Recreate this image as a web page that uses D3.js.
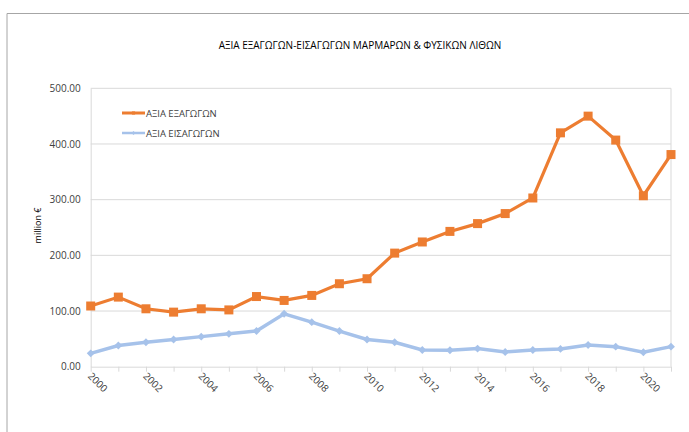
<!DOCTYPE html>
<html>
<head>
<meta charset="utf-8">
<script src="https://cdn.jsdelivr.net/npm/d3@7"></script>
<style>
  body { margin: 0; background: #fff; }
  text { font-family: "Open Sans", "Liberation Sans", sans-serif; fill: #404040; }
</style>
</head>
<body>
<div id="app"></div>
<script>
let years = d3.range(2000, 2022);
let exportsVal = [109, 125, 104, 98, 104, 102, 126, 119, 128, 149, 158, 204, 224, 243, 257, 275, 303, 420, 450, 407, 307, 381];
let importsVal = [24, 38, 44, 49, 54, 59, 64, 95, 80, 64, 49, 44, 30, 29.5, 32.5, 26.5, 30, 32, 39, 36, 26, 36];
let yTicks = [0, 100, 200, 300, 400, 500];
let seriesNames = ['ΑΞΙΑ ΕΞΑΓΩΓΩΝ', 'ΑΞΙΑ ΕΙΣΑΓΩΓΩΝ'];
let chartTitle = 'ΑΞΙΑ ΕΞΑΓΩΓΩΝ-ΕΙΣΑΓΩΓΩΝ ΜΑΡΜΑΡΩΝ & ΦΥΣΙΚΩΝ ΛΙΘΩΝ';

let width = 689;
let height = 432;
let plot = { left: 90.7, right: 671, top: 88.3, bottom: 366.7 };

let orange = '#ed7d31';
let blue = '#a6c2ea';

let svg = d3.select('#app').append('svg')
    .attr('width', width)
    .attr('height', height);

// outer frame (only top and left visible)
svg.append('path')
    .attr('d', 'M7,432 V13.5 H689')
    .attr('fill', 'none')
    .attr('stroke', '#a6a6a6')
    .attr('stroke-width', 1);

let xScale = d3.scaleLinear()
    .domain([2000, 2021])
    .range([plot.left, plot.right]);

let yScale = d3.scaleLinear()
    .domain([0, 500])
    .range([plot.bottom, plot.top]);

// gridlines
svg.append('g')
  .selectAll('line')
    .data(yTicks.slice(1))
    .enter()
    .append('line')
      .attr('x1', plot.left)
      .attr('x2', plot.right)
      .attr('y1', d => yScale(d))
      .attr('y2', d => yScale(d))
      .attr('stroke', '#d9d9d9')
      .attr('stroke-width', 1);

// right border of plot area
svg.append('line')
    .attr('x1', plot.right).attr('x2', plot.right)
    .attr('y1', plot.top).attr('y2', plot.bottom)
    .attr('stroke', '#d9d9d9');

// y axis
let yAxis = d3.axisLeft(yScale)
    .tickValues(yTicks)
    .tickFormat(d3.format('.2f'))
    .tickSize(0)
    .tickPadding(10);

let yg = svg.append('g')
    .attr('transform', `translate(${plot.left},0)`)
    .call(yAxis);
yg.select('.domain').attr('stroke', '#d9d9d9');
yg.selectAll('text')
    .style('font-size', '10px')
    .style('fill', '#404040');

// x axis
let xAxis = d3.axisBottom(xScale)
    .tickValues(years)
    .tickFormat(d => d % 2 === 0 ? d : '')
    .tickSize(5)
    .tickSizeOuter(0);

let xg = svg.append('g')
    .attr('transform', `translate(0,${plot.bottom})`)
    .call(xAxis);
xg.select('.domain').attr('stroke', '#d9d9d9');
xg.selectAll('.tick line').attr('stroke', '#d9d9d9');
xg.selectAll('text')
    .style('font-size', '10px')
    .style('fill', '#404040')
    .attr('text-anchor', 'start')
    .attr('dy', null)
    .attr('y', 0)
    .attr('transform', 'translate(-4,10) rotate(45)');

// y title
svg.append('text')
    .attr('transform', `translate(41,${(plot.top + plot.bottom) / 2 - 2}) rotate(-90)`)
    .attr('text-anchor', 'middle')
    .style('font-size', '9px')
    .style('fill', '#000')
    .text('million €');

// chart title
svg.append('text')
    .attr('x', 360)
    .attr('y', 49)
    .attr('text-anchor', 'middle')
    .style('font-size', '10px')
    .style('fill', '#000')
    .text(chartTitle);

let line = d3.line()
    .x((d, i) => xScale(years[i]))
    .y(d => yScale(d));

// imports
svg.append('path')
    .datum(importsVal)
    .attr('d', line)
    .attr('fill', 'none')
    .attr('stroke', blue)
    .attr('stroke-width', 3.5);

svg.append('g')
  .selectAll('path')
    .data(importsVal)
    .enter()
    .append('path')
      .attr('d', d3.symbol().type(d3.symbolDiamond2).size(40))
      .attr('transform', (d, i) => `translate(${xScale(years[i])},${yScale(d)})`)
      .attr('fill', blue);

// exports
svg.append('path')
    .datum(exportsVal)
    .attr('d', line)
    .attr('fill', 'none')
    .attr('stroke', orange)
    .attr('stroke-width', 3.2);

svg.append('g')
  .selectAll('rect')
    .data(exportsVal)
    .enter()
    .append('rect')
      .attr('x', (d, i) => xScale(years[i]) - 4.5)
      .attr('y', d => yScale(d) - 4.5)
      .attr('width', 9)
      .attr('height', 9)
      .attr('fill', orange);

// legend
let legend = svg.append('g')
  .selectAll('g')
    .data(seriesNames)
    .enter()
    .append('g')
      .attr('transform', (d, i) => `translate(122,${113 + i * 20})`);

legend.append('line')
    .attr('x1', 0).attr('x2', 23)
    .attr('stroke', (d, i) => i === 0 ? orange : blue)
    .attr('stroke-width', (d, i) => i === 0 ? 3 : 2.5);

legend.append('path')
    .attr('d', (d, i) => i === 0
      ? d3.symbol().type(d3.symbolSquare).size(10)()
      : d3.symbol().type(d3.symbolDiamond2).size(10)())
    .attr('transform', 'translate(11.5,0)')
    .attr('fill', (d, i) => i === 0 ? orange : blue);

legend.append('text')
    .attr('x', 24)
    .attr('y', 3.5)
    .style('font-size', '9.5px')
    .style('fill', '#404040')
    .text(d => d);
</script>
</body>
</html>
